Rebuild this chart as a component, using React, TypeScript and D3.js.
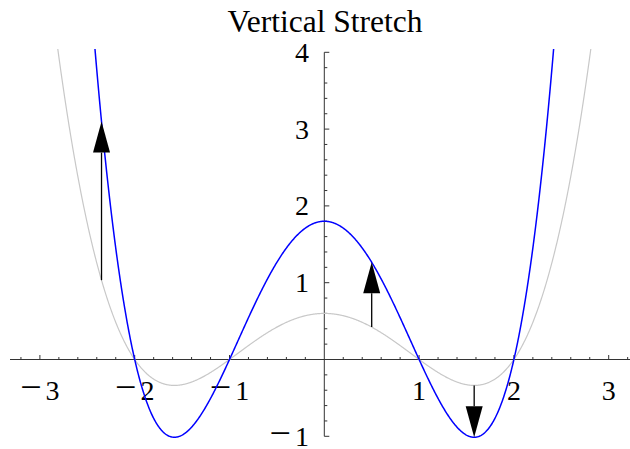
import React from "react";
import * as d3 from "d3";

const W = 630;
const H = 449;

// Base quartic: p(x) = baseCoef * (x+2)(x+1)(x-1)(x-2), and its vertical stretch
const roots = [-2, -1, 1, 2];
const baseCoef = 0.15;
const stretchFactor = 3;

// Where arrows show each point moving from the base curve to the stretched curve
const arrowXs = [-2.35, 0.5, 1.581];

const xMajorTicks = [-3, -2, -1, 1, 2, 3];
const yMajorTicks = [-1, 1, 2, 3, 4];
const titleText = "Vertical Stretch";

const x = d3.scaleLinear().domain([-3, 3]).range([39.9, 608.7]);
const y = d3.scaleLinear().domain([-1, 4]).range([436.3, 52.3]);

const base = (t: number) => baseCoef * roots.reduce((acc, r) => acc * (t - r), 1);
const stretched = (t: number) => stretchFactor * base(t);

const xLeft = x.invert(10);
const xRight = x.invert(W);
const samples = d3.range(xLeft, xRight + 0.005, 0.005);

const line = (fn: (t: number) => number) =>
  d3
    .line<number>()
    .x((t) => x(t))
    .y((t) => y(fn(t)))(samples) as string;

const minorX = d3.range(-3.2, 3.2001, 0.2).map((v) => Math.round(v * 10) / 10).filter((v) => Math.abs(v) > 1e-9);
const minorY = d3.range(-1, 4.0001, 0.2).map((v) => Math.round(v * 10) / 10).filter((v) => Math.abs(v) > 1e-9);

const fmt = (v: number) => (v < 0 ? ["\u2212", String(-v)] : ["", String(v)]);

const FONT = "'Liberation Serif', 'Times New Roman', serif";

function TickLabel({ v, ...rest }: { v: number; [k: string]: any }) {
  const [m, d] = fmt(v);
  return (
    <text {...rest}>
      {m ? <tspan fontSize={38}>{m}</tspan> : null}
      <tspan dx={m ? 4 : 0}>{d}</tspan>
    </text>
  );
}

export default function App() {
  const x0 = x(0);
  const y0 = y(0);
  const headLen = 31;
  const headHalf = 8.5;

  return (
    <svg
      width={W}
      height={H}
      style={{ position: "absolute", left: 0, top: 0, background: "#fff" }}
      fontFamily={FONT}
    >
      <defs>
        <clipPath id="plotClip">
          <rect x={0} y={49} width={W} height={390} />
        </clipPath>
      </defs>

      {/* axes */}
      <g stroke="#333" strokeWidth={1}>
        <line x1={10} x2={W} y1={y0} y2={y0} />
        <line x1={x0} x2={x0} y1={y(4)} y2={y(-1)} />
        {minorX.map((v) => {
          const major = Number.isInteger(v);
          return (
            <line key={"xt" + v} x1={x(v)} x2={x(v)} y1={y0} y2={y0 - (major ? 4.5 : 2.5)} />
          );
        })}
        {minorY.map((v) => {
          const major = Number.isInteger(v);
          return (
            <line key={"yt" + v} x1={x0} x2={x0 + (major ? 5 : 3)} y1={y(v)} y2={y(v)} />
          );
        })}
      </g>

      {/* tick labels */}
      <g fontSize={28} fill="#000">
        {xMajorTicks.map((v) => (
          <TickLabel key={"xl" + v} v={v} x={x(v)} y={400} textAnchor="middle" />
        ))}
        {yMajorTicks.map((v) => (
          <TickLabel key={"yl" + v} v={v} x={309} y={y(v) + 9.5} textAnchor="end" />
        ))}
      </g>

      {/* curves */}
      <g clipPath="url(#plotClip)" fill="none">
        <path d={line(base)} stroke="#c8c8c8" strokeWidth={1.2} />
        <path d={line(stretched)} stroke="#0000ff" strokeWidth={1.5} />
      </g>

      {/* arrows from base to stretched values */}
      <g>
        {arrowXs.map((ax) => {
          const px = x(ax);
          const p1 = y(base(ax));
          const p2 = y(stretched(ax));
          const dir = p2 < p1 ? -1 : 1;
          const baseY = p2 - dir * headLen;
          return (
            <g key={"ar" + ax}>
              <line x1={px} x2={px} y1={p1} y2={baseY} stroke="#000" strokeWidth={1.3} />
              <polygon
                points={`${px},${p2} ${px - headHalf},${baseY} ${px + headHalf},${baseY}`}
                fill="#000"
              />
            </g>
          );
        })}
      </g>

      {/* title */}
      <text x={325} y={32} textAnchor="middle" fontSize={31.5} fill="#000">
        {titleText}
      </text>
    </svg>
  );
}
